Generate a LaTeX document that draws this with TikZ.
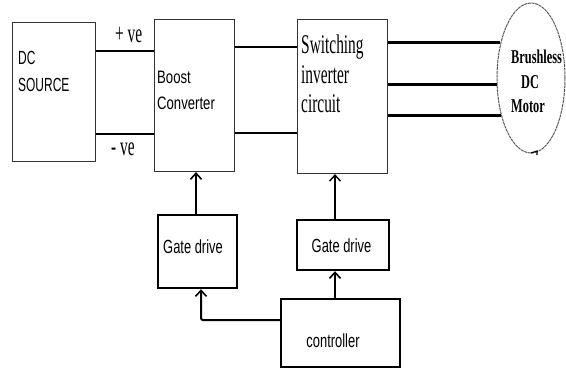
\documentclass[tikz,border=0pt]{standalone}
\usepackage{fontspec}
\usetikzlibrary{arrows.meta,shapes.geometric}
\newfontfamily\dcfont[FakeStretch=0.63]{Liberation Sans}
\newfontfamily\boostfont[FakeStretch=0.73]{Liberation Sans}
\newfontfamily\gatefont[FakeStretch=0.68]{Liberation Sans}
\newfontfamily\swfont[FakeStretch=0.57]{Liberation Serif}
\newfontfamily\motorfont[FakeStretch=0.63]{Liberation Serif}
\begin{document}
\begin{tikzpicture}[x=1pt,y=-1pt,
  thinbox/.style={draw=black!80,line width=1.1pt,inner sep=0pt,anchor=north west},
  thickbox/.style={draw=black,line width=2.2pt,inner sep=0pt,anchor=north west},
  txt/.style={inner sep=0pt,anchor=base west},
  ctxt/.style={inner sep=0pt,anchor=base},
  wire/.style={line width=2.5pt},
  mwire/.style={line width=2.8pt},
  arr/.style={line width=2pt,-{Straight Barb[length=6pt,width=11pt,line width=1.6pt]}},
  arrthin/.style={line width=1.1pt,-{Straight Barb[length=6pt,width=11pt,line width=1.4pt]}}]
\useasboundingbox (0,0) rectangle (566,368);
% boxes
\node[thinbox,minimum width=83pt,minimum height=139pt] (dc) at (12,22) {};
\node[thinbox,minimum width=80pt,minimum height=152pt] (boost) at (154,19) {};
\node[thinbox,minimum width=90pt,minimum height=154pt] (sw) at (297,19) {};
\node[draw=black!65,line width=1pt,dash pattern=on 3pt off 0.7pt,ellipse,minimum width=68pt,minimum height=150pt,inner sep=0pt] (motor) at (531,78) {};
\node[thickbox,minimum width=79pt,minimum height=73pt] (gd1) at (157,214) {};
\node[thickbox,minimum width=92pt,minimum height=50pt] (gd2) at (296,219) {};
\node[thickbox,minimum width=119pt,minimum height=68pt] (ctrl) at (280,298) {};
% texts
\node[txt,font=\dcfont\fontsize{19}{19}\selectfont] (t1) at (18,64) {DC};
\node[txt,font=\dcfont\fontsize{19}{19}\selectfont] (t2) at (18,91) {SOURCE};
\node[txt,font=\boostfont\fontsize{18}{18}\selectfont] (t3) at (157,83) {Boost};
\node[txt,font=\boostfont\fontsize{18}{18}\selectfont] (t4) at (157,109) {Converter};
\node[txt,font=\swfont\fontsize{27}{27}\selectfont] (t5) at (301,53) {Switching};
\node[txt,font=\swfont\fontsize{27}{27}\selectfont] (t6) at (301,83) {inverter};
\node[txt,font=\swfont\fontsize{27}{27}\selectfont] (t7) at (301,112) {circuit};
\node[txt,font=\swfont\fontsize{27}{27}\selectfont] (t8) at (115,42) {+ ve};
\node[txt,font=\swfont\fontsize{27}{27}\selectfont] (t9) at (111,155) {- ve};
\node[txt,font=\motorfont\bfseries\fontsize{19.6}{19.6}\selectfont] (t10) at (511,63) {Brushless};
\node[ctxt,font=\motorfont\bfseries\fontsize{19.6}{19.6}\selectfont] (t11) at (530,88) {DC};
\node[txt,font=\motorfont\bfseries\fontsize{19.6}{19.6}\selectfont] (t12) at (511,112) {Motor};
\node[ctxt,font=\gatefont\fontsize{19}{19}\selectfont] (t13) at (193,253) {Gate drive};
\node[ctxt,font=\gatefont\fontsize{19}{19}\selectfont] (t14) at (341.5,252) {Gate drive};
\node[ctxt,font=\gatefont\fontsize{19}{19}\selectfont] (t15) at (333,347) {controller};
% wires
\draw[wire] (dc.east |- 0,51) -- (boost.west |- 0,51);
\draw[wire] (dc.east |- 0,134) -- (boost.west |- 0,134);
\draw[wire] (boost.east |- 0,47) -- (sw.west |- 0,47);
\draw[wire] (boost.east |- 0,133) -- (sw.west |- 0,133);
\draw[mwire] (sw.east |- motor.131.7) -- (motor.131.7);
\draw[mwire] (sw.east |- motor.191.7) -- (motor.191.7);
\draw[mwire] (sw.east |- motor.231.3) -- (motor.231.3);
% motor bottom tick
\coordinate (m1) at (531,153);
\coordinate (m2) at (537,151);
\draw[line width=1.2pt] (m1) -- (m2) -- ++(0,4);
% arrows
\draw[arr] (gd1.north -| 196,0) -- (boost.south -| 196,0);
\draw[arrthin] (gd2.north -| 335,0) -- (sw.south -| 335,0);
\draw[arr] (ctrl.north -| 335,0) -- (gd2.south -| 335,0);
\draw[arr,rounded corners=2pt] (ctrl.west |- 0,320) -- (201,320) -- (gd1.south -| 201,0);
\end{tikzpicture}
\end{document}
